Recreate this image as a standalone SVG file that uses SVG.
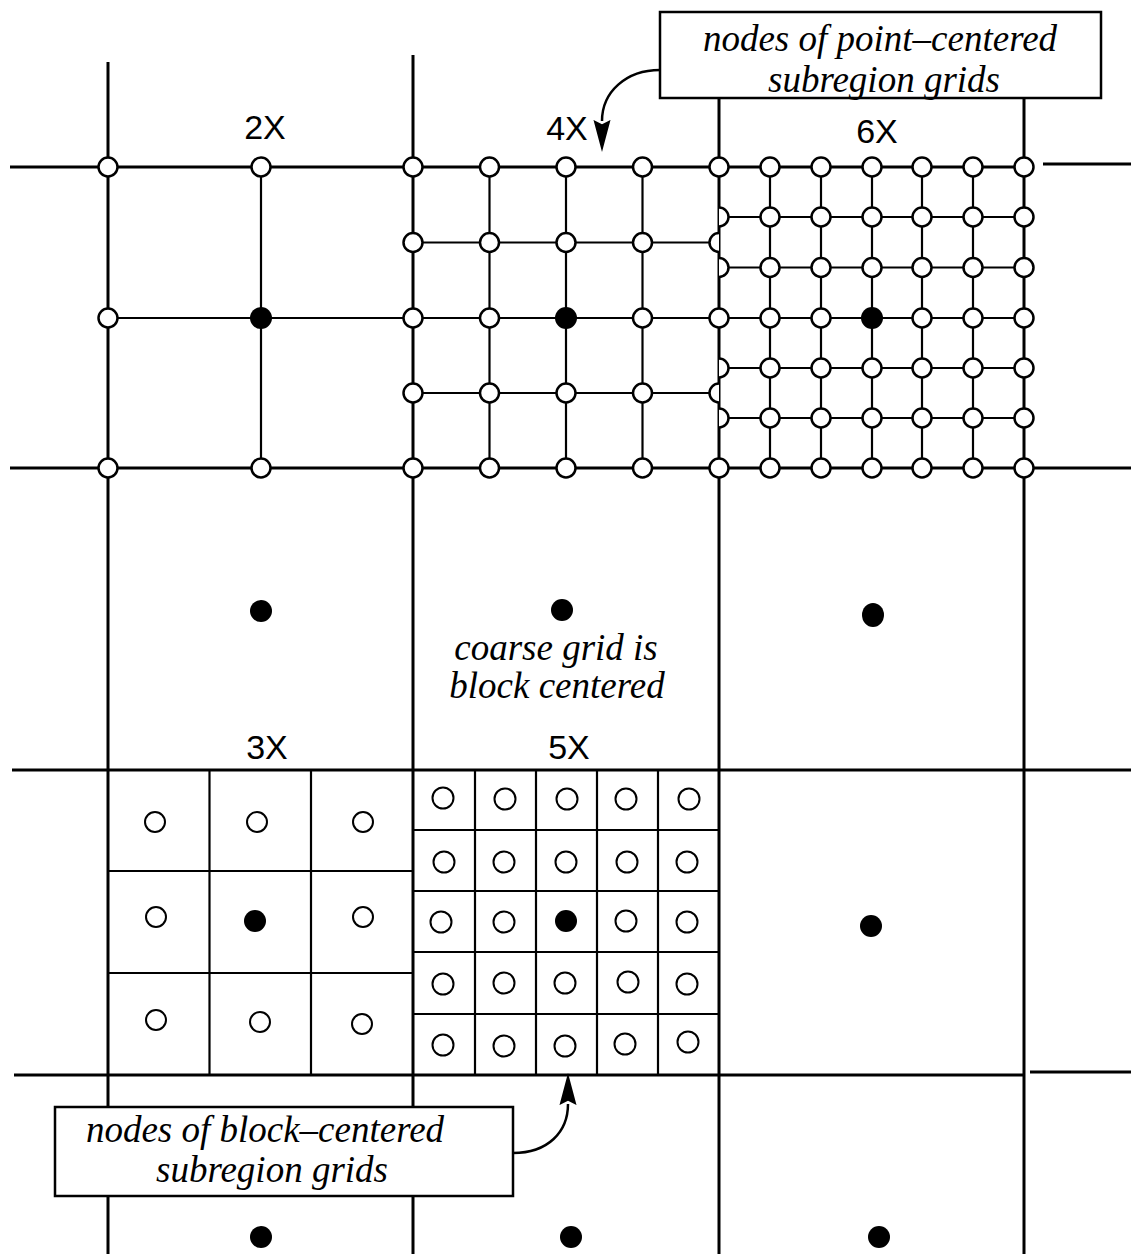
<svg xmlns="http://www.w3.org/2000/svg" width="1131" height="1254" viewBox="0 0 1131 1254">
<style>
.c{stroke:#000;stroke-width:3;fill:none;stroke-linecap:butt}
.f{stroke:#000;stroke-width:2.2;fill:none}
.pn{fill:#fff;stroke:#000;stroke-width:2.5}
.bn{fill:#fff;stroke:#000;stroke-width:2}
.fd{fill:#000;stroke:none}
.lab{font-family:"Liberation Sans",Arial,sans-serif;font-size:34px;fill:#000;text-anchor:middle}
.it{font-family:"Liberation Serif","Times New Roman",serif;font-style:italic;font-size:37px;fill:#000;text-anchor:middle}
.box{fill:#fff;stroke:#000;stroke-width:2.5}
.conn{fill:none;stroke:#000;stroke-width:2.5}
</style>
<defs>
<marker id="ah" markerUnits="userSpaceOnUse" markerWidth="32" markerHeight="18" viewBox="0 0 30 16" refX="1" refY="8" orient="auto">
<path d="M0,0 L30,8 L0,16 L4,8 z" fill="#000"/>
</marker>
</defs>
<rect width="1131" height="1254" fill="#fff"/>

<g id="coarse-grid">
<line class="c" x1="108" y1="62" x2="108" y2="1254"/>
<line class="c" x1="413" y1="55" x2="413" y2="1254"/>
<line class="c" x1="719" y1="98" x2="719" y2="1254"/>
<line class="c" x1="1024" y1="98" x2="1024" y2="1254"/>
<line class="c" x1="10" y1="167" x2="1024" y2="167"/>
<line class="c" x1="1043" y1="164" x2="1131" y2="164"/>
<line class="c" x1="10" y1="468" x2="1131" y2="468"/>
<line class="c" x1="12" y1="770" x2="1131" y2="770"/>
<line class="c" x1="14" y1="1075" x2="1024" y2="1075"/>
<line class="c" x1="1030" y1="1072" x2="1131" y2="1072"/>
</g>

<g id="grid-2x">
<line class="f" x1="261" y1="167" x2="261" y2="468"/>
<line class="f" x1="108" y1="318" x2="1024" y2="318"/>
<circle class="pn" cx="108" cy="167" r="9.5"/>
<circle class="pn" cx="261" cy="167" r="9.5"/>
<circle class="pn" cx="108" cy="318" r="9.5"/>
<circle class="fd" cx="261" cy="318" r="11"/>
<circle class="pn" cx="108" cy="468" r="9.5"/>
<circle class="pn" cx="261" cy="468" r="9.5"/>
<text class="lab" x="265" y="139">2X</text>
</g>

<g id="grid-4x">
<line class="f" x1="489.5" y1="167" x2="489.5" y2="468"/>
<line class="f" x1="566" y1="167" x2="566" y2="468"/>
<line class="f" x1="642.5" y1="167" x2="642.5" y2="468"/>
<line class="f" x1="413" y1="242.5" x2="710" y2="242.5"/>
<line class="f" x1="413" y1="393" x2="710" y2="393"/>
<g>
<circle class="pn" cx="413" cy="167" r="9.5"/><circle class="pn" cx="489.5" cy="167" r="9.5"/><circle class="pn" cx="566" cy="167" r="9.5"/><circle class="pn" cx="642.5" cy="167" r="9.5"/>
<circle class="pn" cx="413" cy="242.5" r="9.5"/><circle class="pn" cx="489.5" cy="242.5" r="9.5"/><circle class="pn" cx="566" cy="242.5" r="9.5"/><circle class="pn" cx="642.5" cy="242.5" r="9.5"/>
<circle class="pn" cx="413" cy="318" r="9.5"/><circle class="pn" cx="489.5" cy="318" r="9.5"/><circle class="fd" cx="566" cy="318" r="11"/><circle class="pn" cx="642.5" cy="318" r="9.5"/>
<circle class="pn" cx="413" cy="393" r="9.5"/><circle class="pn" cx="489.5" cy="393" r="9.5"/><circle class="pn" cx="566" cy="393" r="9.5"/><circle class="pn" cx="642.5" cy="393" r="9.5"/>
<circle class="pn" cx="413" cy="468" r="9.5"/><circle class="pn" cx="489.5" cy="468" r="9.5"/><circle class="pn" cx="566" cy="468" r="9.5"/><circle class="pn" cx="642.5" cy="468" r="9.5"/>
<path class="pn" d="M719,233 A9.5,9.5 0 0 0 719,252"/>
<path class="pn" d="M719,383.5 A9.5,9.5 0 0 0 719,402.5"/>
</g>
<text class="lab" x="567" y="140">4X</text>
</g>

<g id="grid-6x">
<line class="f" x1="770" y1="167" x2="770" y2="468"/>
<line class="f" x1="821" y1="167" x2="821" y2="468"/>
<line class="f" x1="872" y1="167" x2="872" y2="468"/>
<line class="f" x1="922" y1="167" x2="922" y2="468"/>
<line class="f" x1="973" y1="167" x2="973" y2="468"/>
<line class="f" x1="728" y1="217" x2="1024" y2="217"/>
<line class="f" x1="728" y1="267.5" x2="1024" y2="267.5"/>
<line class="f" x1="728" y1="368" x2="1024" y2="368"/>
<line class="f" x1="728" y1="418" x2="1024" y2="418"/>
<g>
<circle class="pn" cx="719" cy="167" r="9.5"/><circle class="pn" cx="770" cy="167" r="9.5"/><circle class="pn" cx="821" cy="167" r="9.5"/><circle class="pn" cx="872" cy="167" r="9.5"/><circle class="pn" cx="922" cy="167" r="9.5"/><circle class="pn" cx="973" cy="167" r="9.5"/><circle class="pn" cx="1024" cy="167" r="9.5"/>
<path class="pn" d="M719,207.5 A9.5,9.5 0 0 1 719,226.5"/><circle class="pn" cx="770" cy="217" r="9.5"/><circle class="pn" cx="821" cy="217" r="9.5"/><circle class="pn" cx="872" cy="217" r="9.5"/><circle class="pn" cx="922" cy="217" r="9.5"/><circle class="pn" cx="973" cy="217" r="9.5"/><circle class="pn" cx="1024" cy="217" r="9.5"/>
<path class="pn" d="M719,258 A9.5,9.5 0 0 1 719,277"/><circle class="pn" cx="770" cy="267.5" r="9.5"/><circle class="pn" cx="821" cy="267.5" r="9.5"/><circle class="pn" cx="872" cy="267.5" r="9.5"/><circle class="pn" cx="922" cy="267.5" r="9.5"/><circle class="pn" cx="973" cy="267.5" r="9.5"/><circle class="pn" cx="1024" cy="267.5" r="9.5"/>
<circle class="pn" cx="719" cy="318" r="9.5"/><circle class="pn" cx="770" cy="318" r="9.5"/><circle class="pn" cx="821" cy="318" r="9.5"/><circle class="fd" cx="872" cy="318" r="11"/><circle class="pn" cx="922" cy="318" r="9.5"/><circle class="pn" cx="973" cy="318" r="9.5"/><circle class="pn" cx="1024" cy="318" r="9.5"/>
<path class="pn" d="M719,358.5 A9.5,9.5 0 0 1 719,377.5"/><circle class="pn" cx="770" cy="368" r="9.5"/><circle class="pn" cx="821" cy="368" r="9.5"/><circle class="pn" cx="872" cy="368" r="9.5"/><circle class="pn" cx="922" cy="368" r="9.5"/><circle class="pn" cx="973" cy="368" r="9.5"/><circle class="pn" cx="1024" cy="368" r="9.5"/>
<path class="pn" d="M719,408.5 A9.5,9.5 0 0 1 719,427.5"/><circle class="pn" cx="770" cy="418" r="9.5"/><circle class="pn" cx="821" cy="418" r="9.5"/><circle class="pn" cx="872" cy="418" r="9.5"/><circle class="pn" cx="922" cy="418" r="9.5"/><circle class="pn" cx="973" cy="418" r="9.5"/><circle class="pn" cx="1024" cy="418" r="9.5"/>
<circle class="pn" cx="719" cy="468" r="9.5"/><circle class="pn" cx="770" cy="468" r="9.5"/><circle class="pn" cx="821" cy="468" r="9.5"/><circle class="pn" cx="872" cy="468" r="9.5"/><circle class="pn" cx="922" cy="468" r="9.5"/><circle class="pn" cx="973" cy="468" r="9.5"/><circle class="pn" cx="1024" cy="468" r="9.5"/>
</g>
<text class="lab" x="877" y="143">6X</text>
</g>

<g id="grid-3x">
<line class="f" x1="209.5" y1="770" x2="209.5" y2="1075"/>
<line class="f" x1="311" y1="770" x2="311" y2="1075"/>
<line class="f" x1="108" y1="871" x2="413" y2="871"/>
<line class="f" x1="108" y1="973" x2="413" y2="973"/>
<circle class="bn" cx="155" cy="822" r="10"/><circle class="bn" cx="257" cy="822" r="10"/><circle class="bn" cx="363" cy="822" r="10"/>
<circle class="bn" cx="156" cy="917" r="10"/><circle class="fd" cx="255" cy="921" r="11"/><circle class="bn" cx="363" cy="917" r="10"/>
<circle class="bn" cx="156" cy="1020" r="10"/><circle class="bn" cx="260" cy="1022" r="10"/><circle class="bn" cx="362" cy="1024" r="10"/>
<text class="lab" x="267" y="759">3X</text>
</g>

<g id="grid-5x">
<line class="f" x1="475" y1="770" x2="475" y2="1075"/>
<line class="f" x1="536" y1="770" x2="536" y2="1075"/>
<line class="f" x1="597" y1="770" x2="597" y2="1075"/>
<line class="f" x1="658" y1="770" x2="658" y2="1075"/>
<line class="f" x1="413" y1="830" x2="719" y2="830"/>
<line class="f" x1="413" y1="891" x2="719" y2="891"/>
<line class="f" x1="413" y1="952" x2="719" y2="952"/>
<line class="f" x1="413" y1="1014" x2="719" y2="1014"/>
<circle class="bn" cx="443" cy="798" r="10.5"/><circle class="bn" cx="505" cy="799" r="10.5"/><circle class="bn" cx="567" cy="799" r="10.5"/><circle class="bn" cx="626" cy="799" r="10.5"/><circle class="bn" cx="689" cy="799" r="10.5"/>
<circle class="bn" cx="444" cy="862" r="10.5"/><circle class="bn" cx="504" cy="862" r="10.5"/><circle class="bn" cx="566" cy="862" r="10.5"/><circle class="bn" cx="627" cy="862" r="10.5"/><circle class="bn" cx="687" cy="862" r="10.5"/>
<circle class="bn" cx="441" cy="922" r="10.5"/><circle class="bn" cx="504" cy="922" r="10.5"/><circle class="fd" cx="566" cy="921" r="11"/><circle class="bn" cx="626" cy="921" r="10.5"/><circle class="bn" cx="687" cy="922" r="10.5"/>
<circle class="bn" cx="443" cy="984" r="10.5"/><circle class="bn" cx="504" cy="983" r="10.5"/><circle class="bn" cx="565" cy="983" r="10.5"/><circle class="bn" cx="628" cy="982" r="10.5"/><circle class="bn" cx="687" cy="984" r="10.5"/>
<circle class="bn" cx="443" cy="1045" r="10.5"/><circle class="bn" cx="504" cy="1046" r="10.5"/><circle class="bn" cx="565" cy="1046" r="10.5"/><circle class="bn" cx="625" cy="1044" r="10.5"/><circle class="bn" cx="688" cy="1042" r="10.5"/>
<text class="lab" x="569" y="759">5X</text>
</g>

<g id="coarse-nodes">
<circle class="fd" cx="261" cy="611" r="11"/>
<circle class="fd" cx="562" cy="610" r="11"/>
<ellipse class="fd" cx="873" cy="615" rx="11" ry="12"/>
<circle class="fd" cx="871" cy="926" r="11"/>
<circle class="fd" cx="261" cy="1237" r="11"/>
<circle class="fd" cx="571" cy="1237" r="11"/>
<circle class="fd" cx="879" cy="1237" r="11"/>
</g>

<g id="note-coarse">
<text class="it" x="556" y="660">coarse grid is</text>
<text class="it" x="557" y="698">block centered</text>
</g>

<g id="callout-point">
<rect class="box" x="660" y="12" width="441" height="86"/>
<text class="it" x="880" y="51">nodes of point–centered</text>
<text class="it" x="884" y="92">subregion grids</text>
</g>

<g id="callout-block">
<rect class="box" x="55" y="1107" width="458" height="89"/>
<text class="it" x="265" y="1142">nodes of block–centered</text>
<text class="it" x="272" y="1182">subregion grids</text>
</g>

<g id="connectors">
<path class="conn" d="M660,70 C626,70 602,92 602,121" marker-end="url(#ah)"/>
<path class="conn" d="M513,1153 C548,1153 568,1132 568,1104" marker-end="url(#ah)"/>
</g>
</svg>
